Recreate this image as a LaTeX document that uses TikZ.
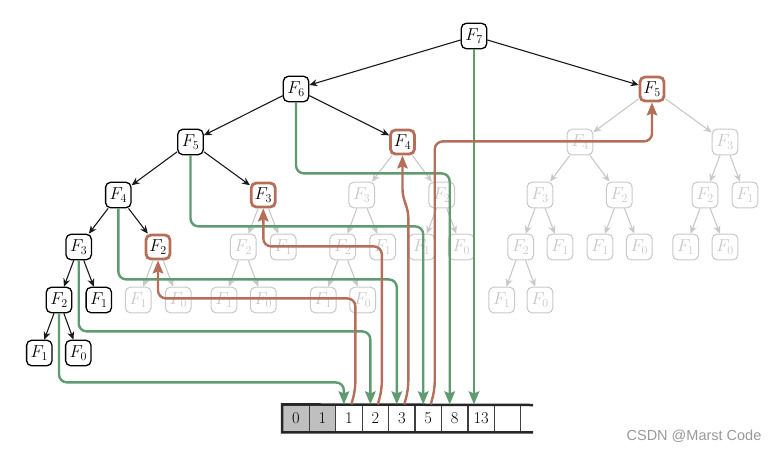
\documentclass[tikz,border=0pt]{standalone}
\usepackage{fontspec}
\usetikzlibrary{arrows.meta,calc}
\newfontfamily\wmfont{Liberation Sans}
\definecolor{pgreen}{HTML}{5F9A70}
\definecolor{pred}{HTML}{B46E5A}
\definecolor{pgray}{HTML}{C8C8C8}
\definecolor{cellgray}{HTML}{BEBFBE}
\newcommand{\fibn}[1]{\fontsize{18}{21}\selectfont$F_{#1}$}
\begin{document}
\begin{tikzpicture}[x=1pt,y=-1pt,
 nbase/.style={rectangle, rounded corners=5pt, fill=white, inner sep=0pt},
 bnode/.style={nbase, draw=black, line width=1.3pt, minimum width=25.4pt, minimum height=25.4pt},
 rnode/.style={nbase, draw=pred, line width=2.8pt, minimum width=24pt, minimum height=24pt},
 gnode/.style={nbase, draw=pgray, text=pgray, line width=1pt, minimum width=25.7pt, minimum height=25.7pt},
 bedge/.style={draw=black!90, line width=1.1pt, -{Stealth[length=8pt,width=7pt]}},
 gedge/.style={draw=pgray, line width=1.1pt, -{Stealth[length=8pt,width=7pt]}},
 gpath/.style={draw=pgreen, line width=2.4pt, rounded corners=8pt, -{Stealth[length=13pt,width=10.5pt,inset=2pt]}},
 rpath/.style={draw=pred, line width=2.4pt, rounded corners=8pt, -{Stealth[length=13pt,width=10.5pt,inset=2pt]}},
 cell/.style={rectangle, draw=black!75, line width=1.2pt, minimum width=26.45pt, minimum height=26.7pt, inner sep=0pt, font=\fontsize{16.5}{19}\selectfont}
]
\useasboundingbox (0,0) rectangle (780,451);

% ---- black nodes
\node[bnode] (t7) at (474,36) {\fibn{7}};
\node[bnode] (t6) at (296,89) {\fibn{6}};
\node[bnode] (t5) at (190.5,142) {\fibn{5}};
\node[bnode] (t4) at (118.3,195) {\fibn{4}};
\node[bnode] (t3) at (78.7,247) {\fibn{3}};
\node[bnode] (t2) at (59,300) {\fibn{2}};
\node[bnode] (t1a) at (98.8,300) {\fibn{1}};
\node[bnode] (l1) at (39.3,353) {\fibn{1}};
\node[bnode] (l0) at (78.3,353) {\fibn{0}};

% ---- red nodes
\node[rnode] (r5) at (652,89) {\fibn{5}};
\node[rnode] (r4) at (402.5,142) {\fibn{4}};
\node[rnode] (r3) at (263.3,195) {\fibn{3}};
\node[rnode] (r2) at (158,247) {\fibn{2}};

% ---- gray nodes
\node[gnode] (g2a) at (138.3,300) {\fibn{1}};
\node[gnode] (g2b) at (178.3,300) {\fibn{0}};

\node[gnode] (g3a) at (243.3,247) {\fibn{2}};
\node[gnode] (g3b) at (283.3,247) {\fibn{1}};
\node[gnode] (g3aa) at (224,300) {\fibn{1}};
\node[gnode] (g3ab) at (263.3,300) {\fibn{0}};

\node[gnode] (g4a) at (361.7,195) {\fibn{3}};
\node[gnode] (g4b) at (441.7,195) {\fibn{2}};
\node[gnode] (g4aa) at (342.7,247) {\fibn{2}};
\node[gnode] (g4ab) at (382.7,247) {\fibn{1}};
\node[gnode] (g4aaa) at (323.3,300) {\fibn{1}};
\node[gnode] (g4aab) at (362.7,300) {\fibn{0}};
\node[gnode] (g4ba) at (421.7,247) {\fibn{1}};
\node[gnode] (g4bb) at (461.3,247) {\fibn{0}};

\node[gnode] (g5a) at (580,142) {\fibn{4}};
\node[gnode] (g5b) at (725,142) {\fibn{3}};
\node[gnode] (g5aa) at (540,195) {\fibn{3}};
\node[gnode] (g5ab) at (619.3,195) {\fibn{2}};
\node[gnode] (g5aaa) at (520.7,247) {\fibn{2}};
\node[gnode] (g5aab) at (560,247) {\fibn{1}};
\node[gnode] (g5aaaa) at (501.7,300) {\fibn{1}};
\node[gnode] (g5aaab) at (540,300) {\fibn{0}};
\node[gnode] (g5aba) at (600,247) {\fibn{1}};
\node[gnode] (g5abb) at (639.3,247) {\fibn{0}};
\node[gnode] (g5ba) at (705,195) {\fibn{2}};
\node[gnode] (g5bb) at (745,195) {\fibn{1}};
\node[gnode] (g5baa) at (685.7,247) {\fibn{1}};
\node[gnode] (g5bab) at (725,247) {\fibn{0}};

% ---- black edges
\draw[bedge] (t7) -- (t6);
\draw[bedge] (t7) -- (r5);
\draw[bedge] (t6) -- (t5);
\draw[bedge] (t6) -- (r4);
\draw[bedge] (t5) -- (t4);
\draw[bedge] (t5) -- (r3);
\draw[bedge] (t4) -- (t3);
\draw[bedge] (t4) -- (r2);
\draw[bedge] (t3) -- (t2);
\draw[bedge] (t3) -- (t1a);
\draw[bedge] (t2) -- (l1);
\draw[bedge] (t2) -- (l0);

% ---- gray edges
\draw[gedge] (r2) -- (g2a);
\draw[gedge] (r2) -- (g2b);
\draw[gedge] (r3) -- (g3a);
\draw[gedge] (r3) -- (g3b);
\draw[gedge] (g3a) -- (g3aa);
\draw[gedge] (g3a) -- (g3ab);
\draw[gedge] (r4) -- (g4a);
\draw[gedge] (r4) -- (g4b);
\draw[gedge] (g4a) -- (g4aa);
\draw[gedge] (g4a) -- (g4ab);
\draw[gedge] (g4aa) -- (g4aaa);
\draw[gedge] (g4aa) -- (g4aab);
\draw[gedge] (g4b) -- (g4ba);
\draw[gedge] (g4b) -- (g4bb);
\draw[gedge] (r5) -- (g5a);
\draw[gedge] (r5) -- (g5b);
\draw[gedge] (g5a) -- (g5aa);
\draw[gedge] (g5a) -- (g5ab);
\draw[gedge] (g5aa) -- (g5aaa);
\draw[gedge] (g5aa) -- (g5aab);
\draw[gedge] (g5aaa) -- (g5aaaa);
\draw[gedge] (g5aaa) -- (g5aaab);
\draw[gedge] (g5ab) -- (g5aba);
\draw[gedge] (g5ab) -- (g5abb);
\draw[gedge] (g5b) -- (g5ba);
\draw[gedge] (g5b) -- (g5bb);
\draw[gedge] (g5ba) -- (g5baa);
\draw[gedge] (g5ba) -- (g5bab);

% ---- array
\node[cell, fill=cellgray] (c0) at (296,418.35) {0};
\node[cell, fill=cellgray] (c1) at (322.45,418.35) {1};
\foreach \i/\v in {2/1,3/2,4/3,5/5,6/8,7/13,8/{}} {
  \node[cell] (c\i) at ({296+26.45*\i},418.35) {\v};
}
\coordinate (aend) at (533,405);
\draw[line width=2.5pt, draw=black!85, line join=miter] (aend) -- (c0.north west) -- (c0.south west) -- (aend |- c0.south);

% ---- green paths
\draw[gpath] (t2.south) |- ($(c2.north)+(-5,-22)$) -- ($(c2.north)+(-5,0)$);
\draw[gpath] (t3.south) |- ($(c3.north)+(-5,-73)$) -- ($(c3.north)+(-5,0)$);
\draw[gpath] (t4.south) |- ($(c4.north)+(-5,-125)$) -- ($(c4.north)+(-5,0)$);
\draw[gpath] (t5.south) |- ($(c5.north)+(-5,-178)$) -- ($(c5.north)+(-5,0)$);
\draw[gpath] (t6.south) |- ($(c6.north)+(-5,-231)$) -- ($(c6.north)+(-5,0)$);
\draw[gpath] (t7.south) -- (t7.south |- c7.north);

% ---- red paths
\draw[rpath] ($(c2.north)+(2.5,0)$) -- ++(4,-15) -- ($(c2.north)+(6.5,-106)$) -| (r2.south);
\draw[rpath] ($(c3.north)+(2.5,0)$) -- ++(4,-15) -- ($(c3.north)+(6.5,-158)$) -| (r3.south);
\draw[rpath] ($(c4.north)+(2.5,0)$) -- ++(4,-15) -- ($(c4.north)+(6.5,-195)$) -- ($(r4.south)+(0,42)$) -- (r4.south);
\draw[rpath] ($(c5.north)+(2.5,0)$) -- ++(4,-15) -- ($(c5.north)+(6.5,-263)$) -| (r5.south);

% ---- watermark
\node[font=\wmfont\fontsize{14.5}{17}\selectfont, text=black!40] (wm) at (694,436) {CSDN @Marst Code};
\end{tikzpicture}
\end{document}
